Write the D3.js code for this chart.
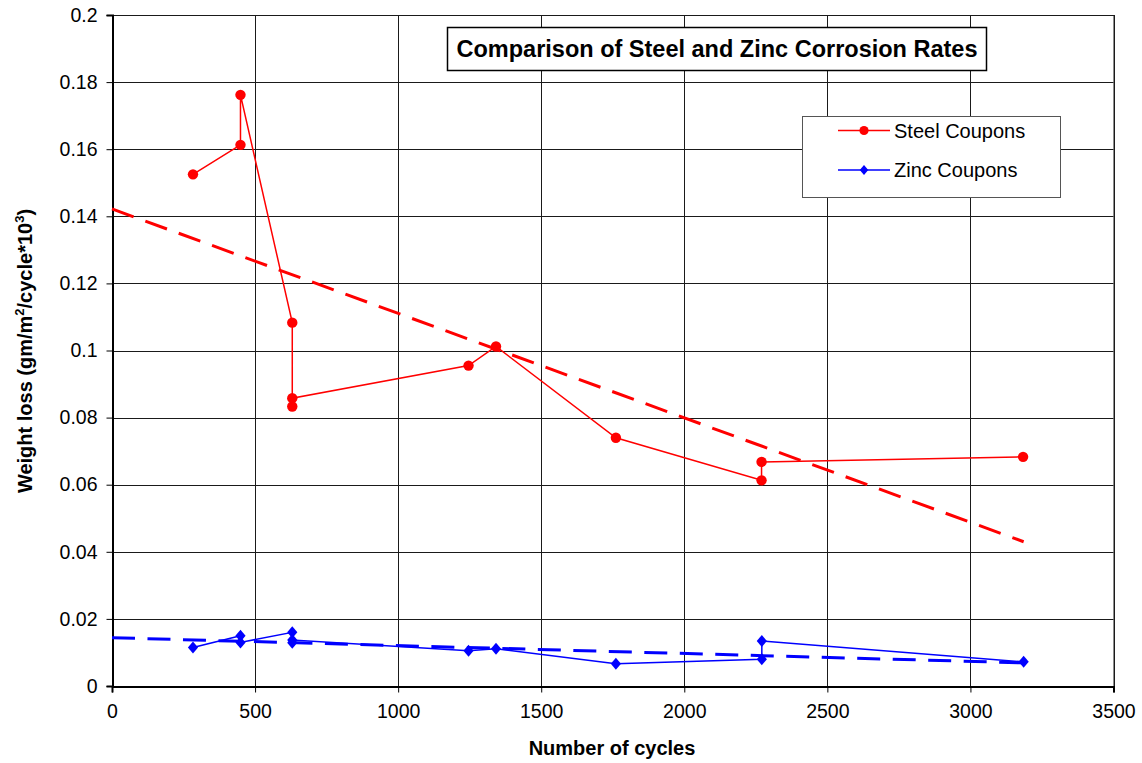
<!DOCTYPE html>
<html>
<head>
<meta charset="utf-8">
<script src="https://cdn.jsdelivr.net/npm/d3@7"></script>
<style>
  html, body { margin: 0; padding: 0; background: #fff; }
  svg { display: block; font-family: "Liberation Sans", Arial, sans-serif; }
</style>
</head>
<body>
<svg id="chart" width="1142" height="763"></svg>
<script>
// Measured corrosion rates per coupon (cycles, weight loss)
const steelCycles = [283, 449, 449, 630, 630, 630, 1246, 1342, 1761, 2270, 2270, 3184];
const steelLoss   = [0.1525, 0.1613, 0.1762, 0.1083, 0.0833, 0.0858, 0.0955, 0.1012, 0.0740, 0.0613, 0.0668, 0.0683];

const zincCycles  = [283, 449, 449, 630, 630, 630, 1246, 1342, 1761, 2271, 2271, 3186];
const zincLoss    = [0.0115, 0.0150, 0.0130, 0.0160, 0.0129, 0.0137, 0.0105, 0.0111, 0.0066, 0.0080, 0.0134, 0.0072];

// Linear trend lines (endpoints)
const steelTrendCycles = [0, 3186];
const steelTrendLoss   = [0.1422, 0.0430];
const zincTrendCycles  = [0, 3186];
const zincTrendLoss    = [0.0144, 0.0069];

const xTicks = [0, 500, 1000, 1500, 2000, 2500, 3000, 3500];
const yTicks = [0, 0.02, 0.04, 0.06, 0.08, 0.1, 0.12, 0.14, 0.16, 0.18, 0.2];

const titleText = "Comparison of Steel and Zinc Corrosion Rates";
const xTitle = "Number of cycles";
const seriesNames = ["Steel Coupons", "Zinc Coupons"];
const steelColor = "#ff0000";
const zincColor = "#0000ff";

const svg = d3.select("#chart");
const plot = { left: 112, right: 1113.5, top: 15, bottom: 686 };

const x = d3.scaleLinear().domain([0, 3500]).range([plot.left, plot.right]);
const y = d3.scaleLinear().domain([0, 0.2]).range([plot.bottom, plot.top]);

// Grid
const grid = svg.append("g");
grid.selectAll("line.h").data(yTicks).join("line")
  .attr("x1", plot.left).attr("x2", plot.right)
  .attr("y1", d => Math.round(y(d)) + 0.5).attr("y2", d => Math.round(y(d)) + 0.5)
  .attr("stroke", "#1a1a1a").attr("stroke-width", 1);
grid.selectAll("line.v").data(xTicks).join("line")
  .attr("y1", plot.top).attr("y2", plot.bottom)
  .attr("x1", d => Math.round(x(d)) + 0.5).attr("x2", d => Math.round(x(d)) + 0.5)
  .attr("stroke", "#1a1a1a").attr("stroke-width", 1);

// Plot frame
svg.append("rect")
  .attr("x", plot.left + 0.5).attr("y", plot.top + 0.5)
  .attr("width", plot.right - plot.left).attr("height", plot.bottom - plot.top)
  .attr("fill", "none").attr("stroke", "#1a1a1a").attr("stroke-width", 1);

// Axes
const xAxis = d3.axisBottom(x).tickValues(xTicks).tickSize(6).tickPadding(6).tickFormat(d3.format("d"));
const yAxis = d3.axisLeft(y).tickValues(yTicks).tickSize(6).tickPadding(9).tickFormat(d => d === 0 ? "0" : String(+d.toFixed(2)));

const gx = svg.append("g").attr("transform", `translate(0,${plot.bottom + 0.5})`).call(xAxis);
const gy = svg.append("g").attr("transform", `translate(${plot.left + 0.5},0)`).call(yAxis);
[gx, gy].forEach(g => {
  g.select(".domain").attr("stroke", "#000").attr("stroke-width", 2);
  g.selectAll(".tick line").attr("stroke", "#000");
  g.selectAll(".tick text").attr("font-size", "19.5px").attr("fill", "#000")
    .attr("font-family", "'Liberation Sans', Arial, sans-serif");
});
gx.selectAll(".tick text").attr("dy", "1em");

// Axis titles
svg.append("text")
  .attr("x", 612).attr("y", 755)
  .attr("text-anchor", "middle")
  .attr("font-size", "20px").attr("font-weight", "bold")
  .text(xTitle);

const yt = svg.append("text")
  .attr("transform", "translate(32,351) rotate(-90)")
  .attr("text-anchor", "middle")
  .attr("font-size", "20px").attr("font-weight", "bold");
yt.append("tspan").text("Weight loss (gm/m");
yt.append("tspan").attr("font-size", "13px").attr("dy", "-8").text("2");
yt.append("tspan").attr("dy", "8").text("/cycle*10");
yt.append("tspan").attr("font-size", "13px").attr("dy", "-8").text("3");
yt.append("tspan").attr("dy", "8").text(")");

// Trend lines
const line = d3.line().x(d => x(d[0])).y(d => y(d[1]));
svg.append("path")
  .datum(d3.zip(steelTrendCycles, steelTrendLoss))
  .attr("d", line).attr("fill", "none")
  .attr("stroke", steelColor).attr("stroke-width", 3)
  .attr("stroke-dasharray", "23,12.5");
svg.append("path")
  .datum(d3.zip(zincTrendCycles, zincTrendLoss))
  .attr("d", line).attr("fill", "none")
  .attr("stroke", zincColor).attr("stroke-width", 3)
  .attr("stroke-dasharray", "23,12.5");

// Series lines
const steel = d3.zip(steelCycles, steelLoss);
const zinc = d3.zip(zincCycles, zincLoss);

svg.append("path").datum(steel).attr("d", line)
  .attr("fill", "none").attr("stroke", steelColor).attr("stroke-width", 1.5);
svg.append("path").datum(zinc).attr("d", line)
  .attr("fill", "none").attr("stroke", zincColor).attr("stroke-width", 1.5);

// Markers
const circleSym = d3.symbol().type(d3.symbolCircle).size(Math.PI * 5.2 * 5.2);
const diamondPath = r => `M0,${-r}L${r * 0.85},0L0,${r}L${-r * 0.85},0Z`;

svg.append("g").selectAll("path").data(steel).join("path")
  .attr("transform", d => `translate(${x(d[0])},${y(d[1])})`)
  .attr("d", circleSym).attr("fill", steelColor);
svg.append("g").selectAll("path").data(zinc).join("path")
  .attr("transform", d => `translate(${x(d[0])},${y(d[1])})`)
  .attr("d", diamondPath(6)).attr("fill", zincColor);

// Title box
const tb = svg.append("g");
tb.append("rect").attr("x", 447.5).attr("y", 27.5).attr("width", 539).attr("height", 43)
  .attr("fill", "#fff").attr("stroke", "#000").attr("stroke-width", 1.5);
tb.append("text").attr("x", 717).attr("y", 57)
  .attr("text-anchor", "middle").attr("font-size", "23.5px").attr("font-weight", "bold")
  .text(titleText);

// Legend
const lg = svg.append("g");
lg.append("rect").attr("x", 802.5).attr("y", 116.5).attr("width", 258).attr("height", 81)
  .attr("fill", "#fff").attr("stroke", "#555").attr("stroke-width", 1);
const legendRows = [
  { name: seriesNames[0], color: steelColor, y: 130.5, sym: "circle" },
  { name: seriesNames[1], color: zincColor, y: 170, sym: "diamond" }
];
legendRows.forEach(r => {
  lg.append("line").attr("x1", 838).attr("x2", 890).attr("y1", r.y).attr("y2", r.y)
    .attr("stroke", r.color).attr("stroke-width", 1.5);
  lg.append("path").attr("transform", `translate(864,${r.y})`)
    .attr("d", r.sym === "circle" ? d3.symbol().type(d3.symbolCircle).size(Math.PI * 4.6 * 4.6)() : diamondPath(5))
    .attr("fill", r.color);
  lg.append("text").attr("x", 894).attr("y", r.y + 7)
    .attr("font-size", "20px").attr("fill", "#000").text(r.name);
});
</script>
</body>
</html>
